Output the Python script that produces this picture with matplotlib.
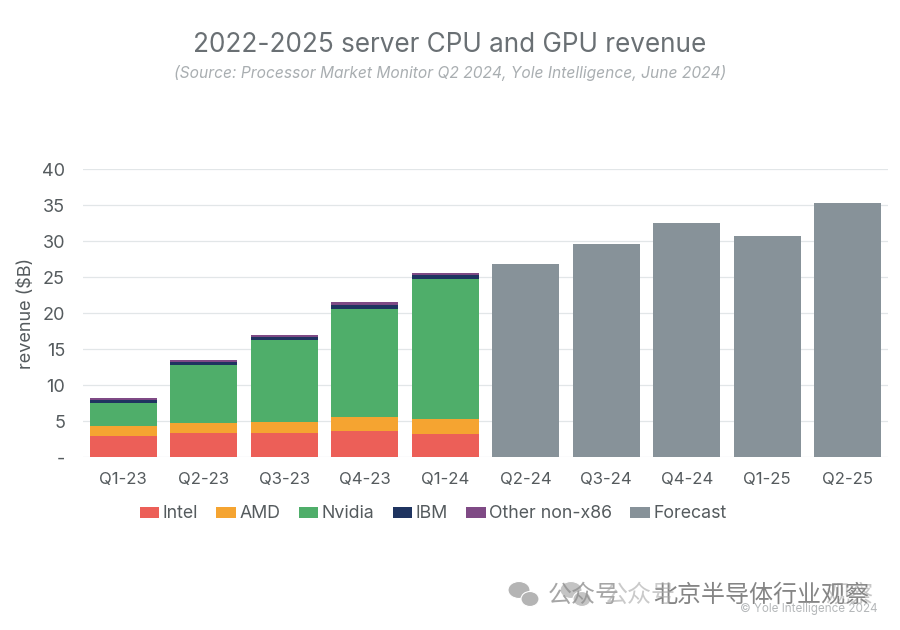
import matplotlib
matplotlib.use("Agg")
import matplotlib.pyplot as plt
from matplotlib.patches import Ellipse

plt.rcParams["font.family"] = ["Inter", "DejaVu Sans"]

quarters = ["Q1-23", "Q2-23", "Q3-23", "Q4-23", "Q1-24",
            "Q2-24", "Q3-24", "Q4-24", "Q1-25", "Q2-25"]
intel = [2.9, 3.33, 3.33, 3.6, 3.15, 0, 0, 0, 0, 0]
amd = [1.4, 1.39, 1.57, 1.95, 2.13, 0, 0, 0, 0, 0]
nvidia = [3.15, 8.0, 11.3, 15.0, 19.44, 0, 0, 0, 0, 0]
ibm = [0.4, 0.5, 0.42, 0.5, 0.55, 0, 0, 0, 0, 0]
other = [0.3, 0.32, 0.33, 0.46, 0.23, 0, 0, 0, 0, 0]
forecast = [0, 0, 0, 0, 0, 26.8, 29.6, 32.5, 30.7, 35.3]
y_ticks = [0, 5, 10, 15, 20, 25, 30, 35, 40]
y_labels = ["-", "5", "10", "15", "20", "25", "30", "35", "40"]

series = [("Intel", intel, "#ec5f58"),
          ("AMD", amd, "#f5a431"),
          ("Nvidia", nvidia, "#4fae6a"),
          ("IBM", ibm, "#1f3460"),
          ("Other non-x86", other, "#7f4a85"),
          ("Forecast", forecast, "#879299")]

text_color = "#555b5e"

fig = plt.figure(figsize=(9, 6.3), dpi=100)
ax = fig.add_axes([83 / 900, 1 - 457 / 630, 805 / 900, 288 / 630])

x = range(len(quarters))
bottom = [0] * len(quarters)
handles = []
for name, values, color in series:
    bars = ax.bar(x, values, width=0.83, bottom=bottom, color=color, label=name, zorder=3)
    handles.append(bars)
    bottom = [b + v for b, v in zip(bottom, values)]

ax.set_xlim(-0.5, 9.5)
ax.set_ylim(0, 40)
ax.set_xticks(list(x))
ax.set_xticklabels(quarters, fontsize=12, color=text_color)
ax.set_yticks(y_ticks)
ax.set_yticklabels(y_labels, fontsize=13, color=text_color)
ax.tick_params(length=0)
ax.tick_params(axis="x", pad=11)
ax.tick_params(axis="y", pad=13)
ax.grid(axis="y", color="#e2e6e8", linewidth=0.9, zorder=0)
ax.set_axisbelow(True)
for spine in ax.spines.values():
    spine.set_visible(False)
ax.set_ylabel("revenue ($B)", fontsize=13, color=text_color, labelpad=5)

fig.text(0.5, 1 - 45 / 630, "2022-2025 server CPU and GPU revenue",
         fontsize=18.8, color="#6a7074", ha="center", va="center")
fig.text(0.5, 1 - 73 / 630, "(Source: Processor Market Monitor Q2 2024, Yole Intelligence, June 2024)",
         fontsize=11.2, color="#a9aeb1", style="italic", ha="center", va="center")

fig.legend(handles=handles, loc="center", bbox_to_anchor=(433 / 900, 1 - 514 / 630),
           ncol=6, frameon=False, fontsize=12.8, labelcolor=text_color,
           handlelength=1.12, handleheight=0.55, handletextpad=0.17, columnspacing=1.03,
           borderpad=0, borderaxespad=0)

# watermark: two overlapping captions, each with its WeChat mark
for dx, shade in [(0, "#b4b4b4"), (52, "#c4c4c4")]:
    for px, py, w, h in [(519, 590, 22, 17), (530, 599, 18, 15)]:
        fig.add_artist(Ellipse(((px + dx) / 900, 1 - py / 630), w / 900, h / 630,
                               facecolor=shade, edgecolor="white", linewidth=0.8,
                               transform=fig.transFigure, zorder=5))
wm = ["Noto Sans CJK SC", "DejaVu Sans"]
for px, label, shade, alpha in [(548, "公众号", "#909090", 0.8),
                                (653, "北京半导体行业观察", "#707070", 0.85),
                                (604, "公众号", "#a8a8a8", 0.6),
                                (825, "观察", "#909090", 0.5)]:
    fig.text(px / 900, 1 - 595 / 630, label, family=wm, fontsize=17.3,
             color=shade, alpha=alpha, va="center", zorder=6)
fig.text(877 / 900, 1 - 609 / 630, "© Yole Intelligence 2024", fontsize=8.4,
         color="#b5b8ba", ha="right", va="center", zorder=7)

fig.savefig("out.png", dpi=100)
